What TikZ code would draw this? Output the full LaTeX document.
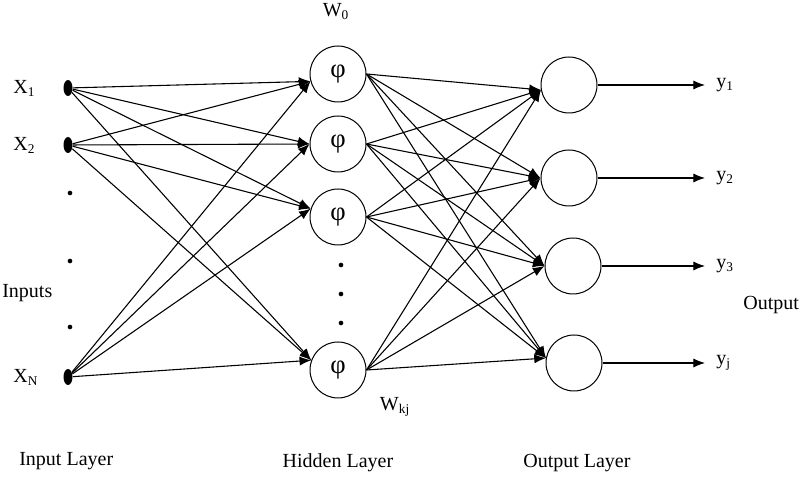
\documentclass[tikz,border=0pt]{standalone}
\usepackage{fontspec}
\setmainfont{Liberation Serif}
\usetikzlibrary{arrows.meta,shapes.geometric}

\tikzset{
    neuron/.style={circle,draw,line width=0.6pt,minimum size=33.6pt,inner sep=0pt},
    inputdot/.style={ellipse,fill=black,minimum width=5.4pt,minimum height=9.6pt,inner sep=0pt},
    link/.style={line width=0.65pt,-{Latex[length=7pt,width=5.5pt]}},
    lbl/.style={font=\fontsize{12}{14}\selectfont,inner sep=0pt}
}

\begin{document}
\begin{tikzpicture}[x=0.6pt,y=-0.6pt]
        \useasboundingbox (0,0) rectangle (806,477);
        % input layer
        \node[inputdot] (x1) at (68,88) {};
        \node[inputdot] (x2) at (68,145) {};
        \node[inputdot] (xN) at (68,377) {};
        \foreach \y in {193,261,327} {%
            \fill (70,\y) circle (1.4pt);
        }
        \node[lbl,anchor=west] (lx1) at (13,88) {X\textsubscript{1}};
        \node[lbl,anchor=west] (lx2) at (13,145) {X\textsubscript{2}};
        \node[lbl,anchor=west] (lxN) at (13,377) {X\textsubscript{N}};
        \node[lbl,anchor=west] (inputs) at (2,293) {Inputs};
        % hidden layer
        \foreach \name/\y in {h1/74,h2/144,h3/217,h4/370} {%
            \node[neuron] (\name) at (338,\y) {\fontsize{16}{18}\selectfont φ};
        }
        \foreach \y in {265,294,323} {%
            \fill (341,\y) circle (1.4pt);
        }
        \node[lbl] (w0) at (336,12) {W\textsubscript{0}};
        \node[lbl] (wkj) at (395,407) {W\textsubscript{kj}};
        % output layer
        \foreach \name/\x/\y in {o1/569/85,o2/569/178,o3/573/266,o4/574/363} {%
            \node[neuron] (\name) at (\x,\y) {};
        }
        \foreach \s in {x1,x2,xN} {%
            \foreach \t/\a in {h1/195,h2/180,h3/163,h4/160} {%
                \draw[link] (\s) -- (\t.\a);
            }
        }
        \foreach \s in {h1,h2,h3,h4} {%
            \foreach \t/\a in {o1/190,o2/180,o3/180,o4/170} {%
                \draw[link] (\s.east) -- (\t.\a);
            }
        }
        \foreach \i/\sub/\y in {1/1/85,2/2/178,3/3/266,4/j/363} {%
            \coordinate (y\i) at (705,\y);
            \draw[link] (o\i.east) -- (y\i);
            \node[lbl,anchor=west] (ly\i) at (716,\y) {y\textsubscript{\sub}};
        }
        \node[lbl,anchor=west] (output) at (743,305) {Output};
        \node[lbl,anchor=west] (inlayer) at (19,461) {Input Layer};
        \node[lbl] (hidlayer) at (338,463) {Hidden Layer};
        \node[lbl,anchor=west] (outlayer) at (523,463) {Output Layer};
    \end{tikzpicture}
\end{document}
